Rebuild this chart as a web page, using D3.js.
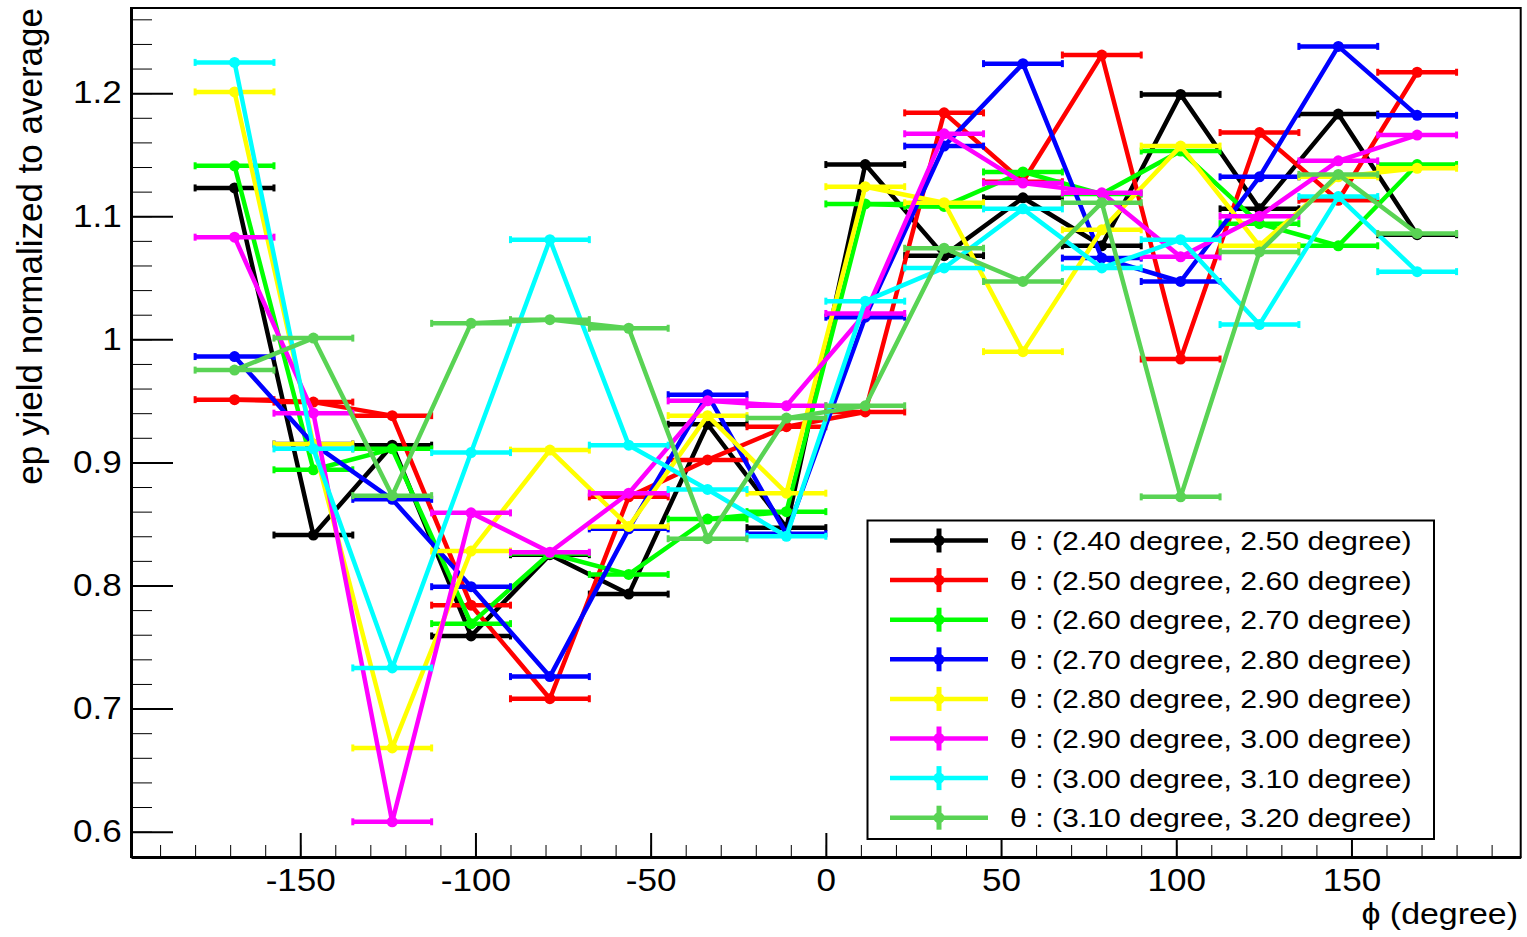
<!DOCTYPE html>
<html>
<head>
<meta charset="utf-8">
<script src="https://cdn.jsdelivr.net/npm/d3@7"></script>
<style>
body{margin:0;background:#fff;}
svg{display:block;}
text{font-family:"Liberation Sans",Arial,Helvetica,sans-serif;fill:#000;}
</style>
</head>
<body>
<svg id="svg_canvas" width="1527" height="937"></svg>
<script>

// phi bin centres (degree), 16 bins of 22.5 degree
var phi_centers=[-168.75,-146.25,-123.75,-101.25,-78.75,-56.25,-33.75,-11.25,11.25,33.75,56.25,78.75,101.25,123.75,146.25,168.75];
var phi_half_width=11.25;

// ep yield normalized to average, one array per theta slice
var yield_240_250=[1.123,0.841,0.914,0.759,0.825,0.793,0.931,0.847,1.142,1.068,1.115,1.076,1.199,1.106,1.183,1.085];
var yield_250_260=[0.951,0.949,0.938,0.784,0.708,0.872,0.902,0.929,0.941,1.184,1.128,1.231,0.984,1.168,1.113,1.217];
var yield_260_270=[1.141,0.894,0.911,0.769,0.826,0.809,0.854,0.860,1.110,1.108,1.136,1.118,1.153,1.094,1.076,1.142];
var yield_270_280=[0.986,0.915,0.870,0.799,0.726,0.846,0.955,0.842,1.018,1.157,1.224,1.066,1.047,1.132,1.238,1.182];
var yield_280_290=[1.201,0.915,0.668,0.828,0.910,0.848,0.938,0.875,1.124,1.111,0.990,1.089,1.157,1.076,1.132,1.139];
var yield_290_300=[1.083,0.940,0.608,0.859,0.827,0.875,0.950,0.946,1.021,1.167,1.127,1.119,1.067,1.100,1.145,1.166];
var yield_300_310=[1.225,0.911,0.733,0.908,1.081,0.914,0.878,0.840,1.031,1.058,1.106,1.058,1.081,1.012,1.116,1.055];
var yield_310_320=[0.975,1.001,0.873,1.013,1.016,1.009,0.838,0.936,0.946,1.074,1.047,1.111,0.872,1.071,1.134,1.086];

var theta_low=["2.40","2.50","2.60","2.70","2.80","2.90","3.00","3.10"];
var theta_high=["2.50","2.60","2.70","2.80","2.90","3.00","3.10","3.20"];
var series_colors=["#000000","#ff0000","#00ff00","#0000ff","#ffff00","#ff00ff","#00ffff","#59d354"];

var y_major_ticks=[0.6,0.7,0.8,0.9,1.0,1.1,1.2];
var x_major_ticks=[-150,-100,-50,0,50,100,150];


function start(){

	var all_series=[yield_240_250,yield_250_260,yield_260_270,yield_270_280,yield_280_290,yield_290_300,yield_300_310,yield_310_320];

	var left_x=131;
	var right_x=1520.7;
	var top_y=8;
	var bottom_y=857;
	var stretch=1.15;   //text in the picture is a bit wider than normal

	var x=d3.scaleLinear().domain([-198.3,198.3]).range([left_x,right_x]);
	var y=d3.scaleLinear().domain([0.5794,1.2692]).range([bottom_y,top_y]);

	var svg=d3.select("#svg_canvas");

	// frame
	svg.append("rect")
		.attr("x",left_x).attr("y",top_y)
		.attr("width",right_x-left_x).attr("height",bottom_y-top_y)
		.attr("fill","none").attr("stroke","#000").attr("stroke-width",2);

	// x axis, ticks pointing up into the frame
	var x_minor=d3.range(-190,191,10);
	svg.append("g")
		.attr("transform","translate(0,"+bottom_y+")")
		.call(d3.axisBottom(x).tickValues(x_minor).tickSize(-12).tickSizeOuter(0).tickFormat(""))
		.call(function(g){g.selectAll("text").remove(); g.select(".domain").attr("stroke-width",3);});

	var x_axis=svg.append("g")
		.attr("transform","translate(0,"+bottom_y+")")
		.call(d3.axisBottom(x).tickValues(x_major_ticks).tickSize(-24).tickSizeOuter(0).tickPadding(12).tickFormat(function(d){return d;}));
	x_axis.select(".domain").remove();
	x_axis.selectAll("line").attr("stroke-width",2);
	x_axis.selectAll("text")
		.attr("font-size",30.5)
		.attr("font-family","Liberation Sans, Arial, sans-serif")
		.attr("fill","#000")
		.attr("transform","scale("+stretch+",1)");

	// y axis, ticks pointing right into the frame
	var y_minor=d3.range(0,35).map(function(i){return 0.58+i*0.02;});
	svg.append("g")
		.attr("transform","translate("+left_x+",0)")
		.call(d3.axisLeft(y).tickValues(y_minor).tickSize(-21).tickSizeOuter(0).tickFormat(""))
		.call(function(g){g.selectAll("text").remove(); g.select(".domain").attr("stroke-width",3);});

	var y_axis=svg.append("g")
		.attr("transform","translate("+left_x+",0)")
		.call(d3.axisLeft(y).tickValues(y_major_ticks).tickSize(-42).tickSizeOuter(0).tickPadding(8)
			.tickFormat(function(d){return String(+d.toFixed(1));}));
	y_axis.select(".domain").remove();
	y_axis.selectAll("line").attr("stroke-width",2);
	y_axis.selectAll("text")
		.attr("font-size",30.5)
		.attr("font-family","Liberation Sans, Arial, sans-serif")
		.attr("fill","#000")
		.attr("transform","scale("+stretch+",1)");

	// axis titles
	svg.append("text")
		.attr("text-anchor","end")
		.attr("transform","translate(42,"+top_y+") rotate(-90)")
		.attr("font-size",35)
		.text("ep yield normalized to average");

	svg.append("text")
		.attr("text-anchor","end")
		.attr("transform","translate(1518,924) scale("+stretch+",1)")
		.attr("font-size",29.5)
		.text("\u03d5 (degree)");

	// graphs, first one at the bottom
	all_series.forEach(function(values,k){

		var color=series_colors[k];
		var pts=values.map(function(v,i){return {phi:phi_centers[i],val:v};});
		var g=svg.append("g").attr("class","graph_"+k);

		//horizontal error bars = bin width
		g.selectAll("line.xerr").data(pts).enter().append("line")
			.attr("class","xerr")
			.attr("x1",function(d){return x(d.phi-phi_half_width);})
			.attr("x2",function(d){return x(d.phi+phi_half_width);})
			.attr("y1",function(d){return y(d.val);})
			.attr("y2",function(d){return y(d.val);})
			.attr("stroke",color).attr("stroke-width",4.5);

		//little end caps
		g.selectAll("rect.cap").data(pts.concat(pts)).enter().append("rect")
			.attr("class","cap")
			.attr("x",function(d,i){ var e= i<pts.length ? d.phi-phi_half_width : d.phi+phi_half_width; return x(e)-1.5;})
			.attr("y",function(d){return y(d.val)-3.5;})
			.attr("width",3).attr("height",7)
			.attr("fill",color);

		g.append("path")
			.datum(pts)
			.attr("fill","none")
			.attr("stroke",color)
			.attr("stroke-width",4.5)
			.attr("stroke-linejoin","round")
			.attr("d",d3.line().x(function(d){return x(d.phi);}).y(function(d){return y(d.val);}));

		g.selectAll("circle").data(pts).enter().append("circle")
			.attr("cx",function(d){return x(d.phi);})
			.attr("cy",function(d){return y(d.val);})
			.attr("r",5.5)
			.attr("fill",color);
	});

	// legend
	var leg_x=867.5, leg_y=520.5, leg_w=566.5, leg_h=318.5, row_h=39.6;
	var legend=svg.append("g");
	legend.append("rect")
		.attr("x",leg_x).attr("y",leg_y).attr("width",leg_w).attr("height",leg_h)
		.attr("fill","#fff").attr("stroke","#000").attr("stroke-width",2);

	var rows=legend.selectAll("g.row").data(theta_low).enter().append("g")
		.attr("class","row")
		.attr("transform",function(d,i){return "translate(0,"+(540.5+i*row_h)+")";});

	rows.append("line")
		.attr("x1",890).attr("x2",988).attr("y1",0).attr("y2",0)
		.attr("stroke",function(d,i){return series_colors[i];}).attr("stroke-width",4.5);
	rows.append("line")
		.attr("x1",939).attr("x2",939).attr("y1",-12).attr("y2",12)
		.attr("stroke",function(d,i){return series_colors[i];}).attr("stroke-width",5);
	rows.append("circle")
		.attr("cx",939).attr("cy",0).attr("r",5.5)
		.attr("fill",function(d,i){return series_colors[i];});
	rows.append("text")
		.attr("transform","translate(1010,0) scale("+stretch+",1)")
		.attr("dy","0.36em")
		.attr("font-size",26.3)
		.text(function(d,i){return "\u03b8 : ("+theta_low[i]+" degree, "+theta_high[i]+" degree)";});

}

start();

</script>
</body>
</html>
